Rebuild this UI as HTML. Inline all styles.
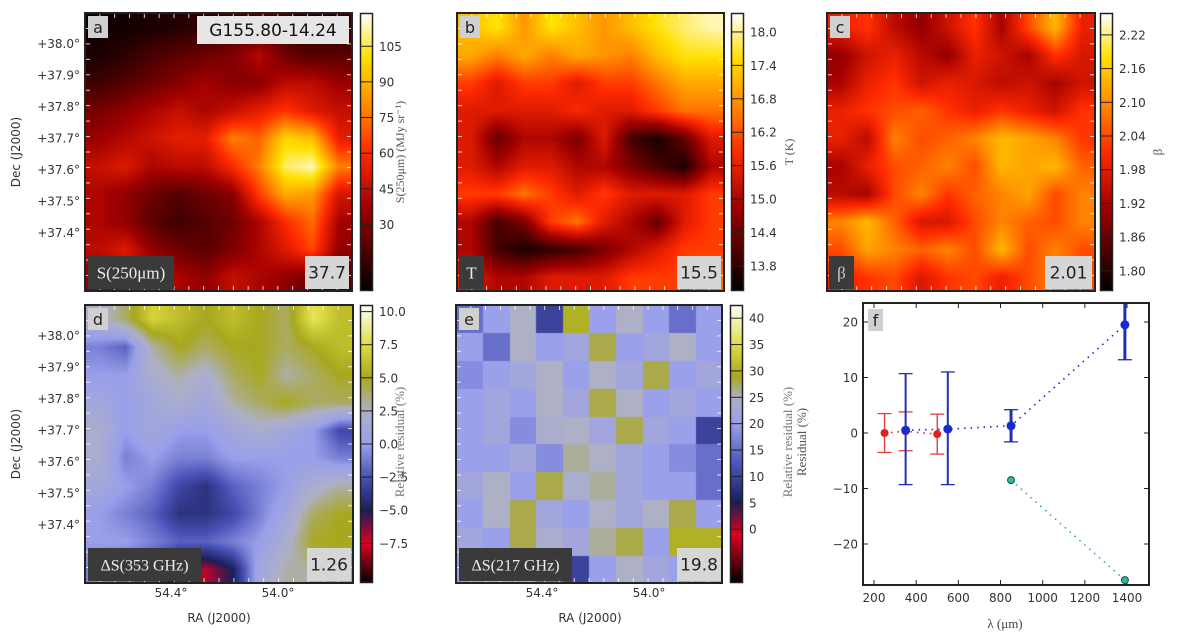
<!DOCTYPE html>
<html><head><meta charset="utf-8"><style>
html,body{margin:0;padding:0;background:#fff;}
#root{position:relative;width:1200px;height:636px;overflow:hidden;font-family:"DejaVu Sans","Liberation Sans",sans-serif;}
canvas{position:absolute;}
svg{position:absolute;left:0;top:0;}
</style></head><body>
<div id="root">
<svg id="svg" width="1200" height="636" xmlns="http://www.w3.org/2000/svg"></svg>
</div>
<script>
// ---------- data (coarse maps, rows top->bottom) ----------
const mapA = [
[6,6,8,10,12,14,20,14,10,12],
[8,12,18,22,26,30,42,26,20,22],
[16,20,26,32,38,32,32,44,44,36],
[28,34,40,46,40,46,54,62,52,46],
[36,42,48,54,54,78,72,98,92,54],
[46,52,40,44,44,60,78,108,114,78],
[40,34,26,20,26,32,64,88,84,50],
[40,34,22,16,20,26,40,60,74,38],
[44,52,34,26,22,30,40,52,66,34],
[34,40,46,40,34,46,40,34,26,20]];
const mapB = [
[17.2,17.6,16.8,17.6,17.2,16.8,17.2,17.6,17.9,18.1],
[17,16.6,17,16.6,17,16.8,16.6,17.2,17.6,17.6],
[16,15.5,16,16,15.5,16,16,16.5,17,17],
[15.5,15.5,15.5,15.5,15.8,15.5,15.5,16,16.5,16.5],
[15.5,14.3,15,15,14.5,15.5,14,13.6,14.3,15.5],
[15.5,15,15.5,15.5,15,15,14.5,14,13.6,15],
[16,16,16.5,16,15.5,16,15.5,15.5,15.5,16],
[15,14,14.5,16,16.5,15.5,15,14.3,15.5,16],
[15,14,13.6,13.8,14,14.5,15,15.5,16,16],
[15.5,15,15,15.5,15.5,15.5,16,16,16,16.5]];
const mapC = [
[1.99,2.02,1.94,1.9,1.96,2.02,1.92,2.04,2.14,1.99],
[1.9,1.96,1.99,1.94,1.9,1.99,1.96,1.92,2.02,1.97],
[1.92,1.99,2.02,1.96,1.99,1.97,1.94,1.96,1.92,1.96],
[1.99,2.02,2.04,2.06,2.02,1.99,2.02,1.99,1.96,2.02],
[1.99,1.94,2.09,2.04,2.06,2.09,2.14,2.12,2.09,2.02],
[1.92,1.99,2.04,2.06,2.09,2.04,2.14,2.12,2.14,2.06],
[1.94,1.92,2.04,2.09,2.02,2.06,2.09,2.12,2.04,2.09],
[2.09,2.14,2.06,1.97,1.97,2.04,2.09,2.06,2.04,2.09],
[2.04,2.12,2.09,2.06,2.09,2.04,2.14,2.04,2.09,2.04],
[1.99,2.02,2.04,1.97,2.02,2.04,1.99,2.04,2.09,2.04]];
const mapD = [
[2,4,7,6,5,6,5,4,8,6],
[-1,-2,3,5,4,5,5,4,5,6],
[0,0,2,3,2,4,5,3,4,5],
[1,0,1,2,1,3,4,5,4,4],
[2,0,1,0,0,1,2,1,0,-3],
[2,-1,0,-1,-1,0,0,0,0,-1],
[1,0,-1,-3,-4,-2,-1,0,2,3],
[0,-1,-2,-4,-4,-3,-1,1,4,5],
[0,0,-1,-2,-2,-1,0,2,5,5],
[-1,-2,-3,-6,-7,-5,1,3,3,4]];
const mapE = [
[15,20,25,10,30,20,25,20,15,20],
[20,15,25,20,22,28,20,22,25,20],
[18,20,22,25,20,25,22,28,20,22],
[20,22,20,25,22,28,25,20,22,20],
[20,22,18,24,25,22,28,22,20,10],
[20,20,22,18,26,25,22,20,18,15],
[22,25,20,28,24,26,22,20,20,15],
[20,25,28,22,20,25,22,25,28,20],
[22,20,28,24,22,26,28,20,30,30],
[20,25,20,15,10,20,25,22,20,25]];
// panel f series
const redWl = [250, 350, 500];
const redVal = [0.0, 0.3, -0.2];
const redErr = [3.5, 3.5, 3.6];
const blueWl = [350, 550, 850, 1390];
const blueVal = [0.5, 0.7, 1.3, 19.5];
const blueErrHi = [10.2, 10.3, 2.9, 10];
const blueErrLo = [9.8, 10.0, 2.9, 6.3];
const tealWl = [850, 1390];
const tealVal = [-8.5, -26.5];
const fXTicks = [200,400,600,800,1000,1200,1400];
const fYTicks = [-20,-10,0,10,20];
const ticksA = [30,45,60,75,90,105];
const ticksB = [13.8,14.4,15.0,15.6,16.2,16.8,17.4,18.0];
const ticksC = [1.80,1.86,1.92,1.98,2.04,2.10,2.16,2.22];
const ticksD = [-7.5,-5.0,-2.5,0.0,2.5,5.0,7.5,10.0];
const ticksE = [0,5,10,15,20,25,30,35,40];
const decTicks = ["+38.0°","+37.9°","+37.8°","+37.7°","+37.6°","+37.5°","+37.4°"];
const raTicks = ["54.4°","54.0°"];

// ---------- helpers ----------
const NS="http://www.w3.org/2000/svg";
const svg=document.getElementById('svg');
const root=document.getElementById('root');
function el(tag,attrs,parent,text){const e=document.createElementNS(NS,tag);for(const k in attrs)e.setAttribute(k,attrs[k]);if(text!==undefined)e.textContent=text;(parent||svg).appendChild(e);return e;}
function hex(h){return [parseInt(h.slice(1,3),16),parseInt(h.slice(3,5),16),parseInt(h.slice(5,7),16)];}
function mkCmap(stops){const s=stops.map(([v,c])=>[v,hex(c)]);return v=>{if(v<=s[0][0])return s[0][1];for(let i=1;i<s.length;i++){if(v<=s[i][0]){const t=(v-s[i-1][0])/(s[i][0]-s[i-1][0]);return s[i-1][1].map((a,j)=>a+(s[i][1][j]-a)*t);}}return s[s.length-1][1];};}
function hotStops(lo,hi){const r=hi-lo;return [[lo,'#000000'],[lo+.3*r,'#a00000'],[lo+.5*r,'#ff2a00'],[lo+.68*r,'#ff9000'],[lo+.84*r,'#ffe000'],[hi,'#ffffff']];}
const cmA=mkCmap(hotStops(2,119)), cmB=mkCmap(hotStops(13.35,18.34)), cmC=mkCmap(hotStops(1.764,2.259));
function resStops(v){const c=['#000000','#e00020','#1a1e5a','#4a52b8','#9aa0ea','#aeb0c6','#a8a820','#dede40','#ffffff'];return v.map((x,i)=>[x,c[i]]);}
const cmD=mkCmap(resStops([-10.5,-7.5,-5,-2.5,0,2.5,5,7.5,10.5]));
const cmE=mkCmap(resStops([-10.2,-1,5,12,20,25,29,35,42.5]));

function heat(name,grid,cmap,x,y,w,h,smooth){
  const c=document.createElement('canvas');c.width=w;c.height=h;
  c.style.left=x+'px';c.style.top=y+'px';
  
  
  root.insertBefore(c,svg);
  const ctx=c.getContext('2d');const img=ctx.createImageData(w,h);
  const R=grid.length,C=grid[0].length;
  for(let py=0;py<h;py++)for(let px=0;px<w;px++){
    let v;
    if(smooth){const gx=Math.min(Math.max(px/w*C-0.5,0),C-1),gy=Math.min(Math.max(py/h*R-0.5,0),R-1);
      const x0=Math.floor(gx),y0=Math.floor(gy),x1=Math.min(x0+1,C-1),y1=Math.min(y0+1,R-1),tx=gx-x0,ty=gy-y0;
      v=grid[y0][x0]*(1-tx)*(1-ty)+grid[y0][x1]*tx*(1-ty)+grid[y1][x0]*(1-tx)*ty+grid[y1][x1]*tx*ty;}
    else{v=grid[Math.floor(py/h*R)][Math.floor(px/w*C)];}
    const col=cmap(v);const i=(py*w+px)*4;img.data[i]=col[0];img.data[i+1]=col[1];img.data[i+2]=col[2];img.data[i+3]=255;}
  ctx.putImageData(img,0,0);
}
function cbar(name,cmap,lo,hi,ticks,x,y,w,h,fmt){
  const c=document.createElement('canvas');c.width=w;c.height=h;c.style.left=x+'px';c.style.top=y+'px';
  
  
  root.insertBefore(c,svg);const ctx=c.getContext('2d');
  for(let py=0;py<h;py++){const col=cmap(hi-(hi-lo)*py/(h-1));ctx.fillStyle=`rgb(${col.map(Math.round).join(',')})`;ctx.fillRect(0,py,w,1);}
  el('rect',{x:x+.5,y:y+.5,width:w-1,height:h-1,fill:'none',stroke:'#222','stroke-width':1.5,});
  ticks.forEach(t=>{const yy=y+h-(t-lo)/(hi-lo)*h;
    el('line',{x1:x,x2:x+w,y1:yy,y2:yy,stroke:'#222','stroke-width':1,});
    el('text',{x:x+w+6,y:yy+4.5,'font-size':12,fill:'#333',},undefined,fmt(t));});
}
function frame(name,x,y,w,h){
  const n=18;for(let i=1;i<n;i++){const xx=x+w*i/n,yy=y+h*i/n;
    el('line',{x1:xx,x2:xx,y1:y+h,y2:y+h-5,stroke:'#fff','stroke-width':1,opacity:.8,});
    el('line',{x1:xx,x2:xx,y1:y,y2:y+5,stroke:'#fff','stroke-width':1,opacity:.8,});
    el('line',{x1:x,x2:x+5,y1:yy,y2:yy,stroke:'#fff','stroke-width':1,opacity:.8,});
    el('line',{x1:x+w,x2:x+w-5,y1:yy,y2:yy,stroke:'#fff','stroke-width':1,opacity:.8,});}
  el('rect',{x:x,y:y,width:w,height:h,fill:'none',stroke:'#222','stroke-width':2,});
}
function box(name,x,y,w,h,fill,txt,tcol,fs,serif){
  const g=el('g',{});
  el('rect',{x:x,y:y,width:w,height:h,fill:fill},g);
  el('text',{x:x+w/2,y:y+h/2+fs*0.36,'font-size':fs,fill:tcol,'text-anchor':'middle','font-family':serif?'"Liberation Serif","DejaVu Serif",serif':'"DejaVu Sans","Liberation Sans",sans-serif'},g,txt);
}
function rotText(name,x,y,txt,fs,fam,col){el('text',{x:x,y:y,'font-size':fs,fill:col||'#333','text-anchor':'middle',transform:`rotate(-90 ${x} ${y})`,'font-family':fam||'"DejaVu Sans",sans-serif',},undefined,txt);}

// ---------- panels ----------
const P={a:[85,13,267,278],b:[457,13,267,278],c:[827,13,268,278],d:[85,305,268,278],e:[456,305,266,278]};
heat('heatmap-a',mapA,cmA,...P.a,true);
heat('heatmap-b',mapB,cmB,...P.b,true);
heat('heatmap-c',mapC,cmC,...P.c,true);
heat('heatmap-d',mapD,cmD,...P.d,true);
heat('heatmap-e',mapE,cmE,...P.e,false);
for(const k in P)frame('panel-'+k,...P[k]);

cbar('colorbar-a',cmA,2,119,ticksA,360,13,13,278,t=>String(t));
cbar('colorbar-b',cmB,13.35,18.34,ticksB,731,13,13,278,t=>t.toFixed(1));
cbar('colorbar-c',cmC,1.764,2.259,ticksC,1100,13,13,278,t=>t.toFixed(2));
cbar('colorbar-d',cmD,-10.5,10.5,ticksD,360,305,13,278,t=>(t<0?'−':'')+Math.abs(t).toFixed(1));
cbar('colorbar-e',cmE,-10.2,42.5,ticksE,730,305,13,278,t=>String(t));

rotText('colorbar-a-label',404,152,'S(250μm) (MJy sr⁻¹)',12,'"Liberation Serif",serif','#555');
rotText('colorbar-b-label',793,152,'T (K)',12,'"Liberation Serif",serif','#555');
rotText('colorbar-c-label',1162,152,'β',13,'"Liberation Serif",serif','#555');
rotText('colorbar-d-label',404,442,'Relative residual (%)',13,'"Liberation Serif",serif','#777');
rotText('colorbar-e-label',792,442,'Relative residual (%)',13,'"Liberation Serif",serif','#777');
rotText('panel-f-ylabel',806,442,'Residual (%)',13,'"Liberation Serif",serif','#555');

// dec labels
[[13],[305]].forEach(([top],r)=>{
  decTicks.forEach((t,i)=>{const yy=top+31+i*31.5;
    el('text',{x:80,y:yy+4,'font-size':12,fill:'#333','text-anchor':'end',},undefined,t);});
  rotText('dec-axis-title',20,top+139,'Dec (J2000)',12);
});
[85,456].forEach(x0=>{
  raTicks.forEach((t,i)=>{el('text',{x:x0+86+i*107,y:597,'font-size':12,fill:'#333','text-anchor':'middle',},undefined,t);});
  el('text',{x:x0+134,y:622,'font-size':12,fill:'#333','text-anchor':'middle',},undefined,'RA (J2000)');
});

// panel labels
box('label-a',88,16,20,22,'#d0d0d0','a','#222',16);
box('label-b',460,16,20,22,'#d0d0d0','b','#222',16);
box('label-c',830,16,20,22,'#d0d0d0','c','#222',16);
box('label-d',88,308,20,22,'#d0d0d0','d','#222',16);
box('label-e',459,308,20,22,'#d0d0d0','e','#222',16);
box('field-name',197,16,152,28,'#e6e6e6','G155.80-14.24','#111',17);
box('label-s250',88,256,86,33,'#3a3a3a','S(250μm)','#eee',17,true);
box('label-t',459,256,25,33,'#3a3a3a','T','#eee',17,true);
box('label-beta',829,256,25,33,'#3a3a3a','β','#ccc',17,true);
box('label-ds353',88,548,113,33,'#3a3a3a','ΔS(353 GHz)','#eee',16,true);
box('label-ds217',459,548,113,33,'#3a3a3a','ΔS(217 GHz)','#eee',16,true);
box('value-a',305,256,44,33,'#d6d6d6','37.7','#222',17);
box('value-b',677,256,44,33,'#d6d6d6','15.5','#222',17);
box('value-c',1045,256,47,33,'#d6d6d6','2.01','#222',17);
box('value-d',307,548,44,33,'#d6d6d6','1.26','#222',17);
box('value-e',677,548,44,33,'#d6d6d6','19.8','#222',17);

// ---------- panel f ----------
const fx0=863,fx1=1149,fy0=303,fy1=585;
const xS=v=>874+(v-200)*(253/1200);
const yS=v=>433-v*5.55;
const gf=el('g',{});
el('rect',{x:fx0,y:fy0,width:fx1-fx0,height:fy1-fy0,fill:'#fff'},gf);
const cp=el('clipPath',{id:'fclip'},gf);
el('rect',{x:fx0,y:fy0,width:fx1-fx0,height:fy1-fy0},cp);
fXTicks.forEach(t=>{const x=xS(t);
  el('line',{x1:x,x2:x,y1:fy1,y2:fy1-5,stroke:'#222'},gf);el('line',{x1:x,x2:x,y1:fy0,y2:fy0+5,stroke:'#222'},gf);
  el('text',{x:x,y:fy1+17,'font-size':12,fill:'#333','text-anchor':'middle',},gf,String(t));});
fYTicks.forEach(t=>{const y=yS(t);
  el('line',{x1:fx0,x2:fx0+5,y1:y,y2:y,stroke:'#222'},gf);el('line',{x1:fx1,x2:fx1-5,y1:y,y2:y,stroke:'#222'},gf);
  el('text',{x:fx0-5,y:y+4.5,'font-size':12,fill:'#333','text-anchor':'end',},gf,(t<0?'−':'')+Math.abs(t));});
const gd=el('g',{'clip-path':'url(#fclip)',},gf);
function series(name,wl,val,col,dash){
  el('polyline',{points:wl.map((w,i)=>xS(w)+','+yS(val[i])).join(' '),fill:'none',stroke:col,'stroke-width':1.6,'stroke-dasharray':dash,},gd);
}
series('red-series',redWl,redVal,'#e02020','1.5 5');
series('blue-series',blueWl,blueVal,'#2020c0','1.5 5');
series('teal-series',tealWl,tealVal,'#20b0a0','1.5 5');
function ebar(name,x,v,hi,lo,col,w){const X=xS(x);
  const g=el('g',{},gd);
  el('line',{x1:X,x2:X,y1:yS(v+hi),y2:yS(v-lo),stroke:col,'stroke-width':w},g);
  [v+hi,v-lo].forEach(e=>el('line',{x1:X-7,x2:X+7,y1:yS(e),y2:yS(e),stroke:col,'stroke-width':1.3},g));
}
redWl.forEach((w,i)=>ebar('red-errorbar',w,redVal[i],redErr[i],redErr[i],'#e04040',1.4));
blueWl.forEach((w,i)=>ebar('blue-errorbar',w,blueVal[i],blueErrHi[i],blueErrLo[i],'#2030b0',i>=2?3:2));
redWl.forEach((w,i)=>el('circle',{cx:xS(w),cy:yS(redVal[i]),r:4,fill:'#e02020',},gd));
blueWl.forEach((w,i)=>el('circle',{cx:xS(w),cy:yS(blueVal[i]),r:4.5,fill:'#1a2ad0',},gd));
tealWl.forEach((w,i)=>el('circle',{cx:xS(w),cy:yS(tealVal[i]),r:3.5,fill:'#30b8a0',stroke:'#105040','stroke-width':1,},gd));
el('rect',{x:fx0,y:fy0,width:fx1-fx0,height:fy1-fy0,fill:'none',stroke:'#222','stroke-width':2,},gf);
box('label-f',868,309,15,22,'#d0d0d0','f','#222',16);
el('text',{x:1005,y:628,'font-size':13,fill:'#444','text-anchor':'middle','font-family':'"Liberation Serif",serif',},gf,'λ (μm)');
</script>
</body></html>
